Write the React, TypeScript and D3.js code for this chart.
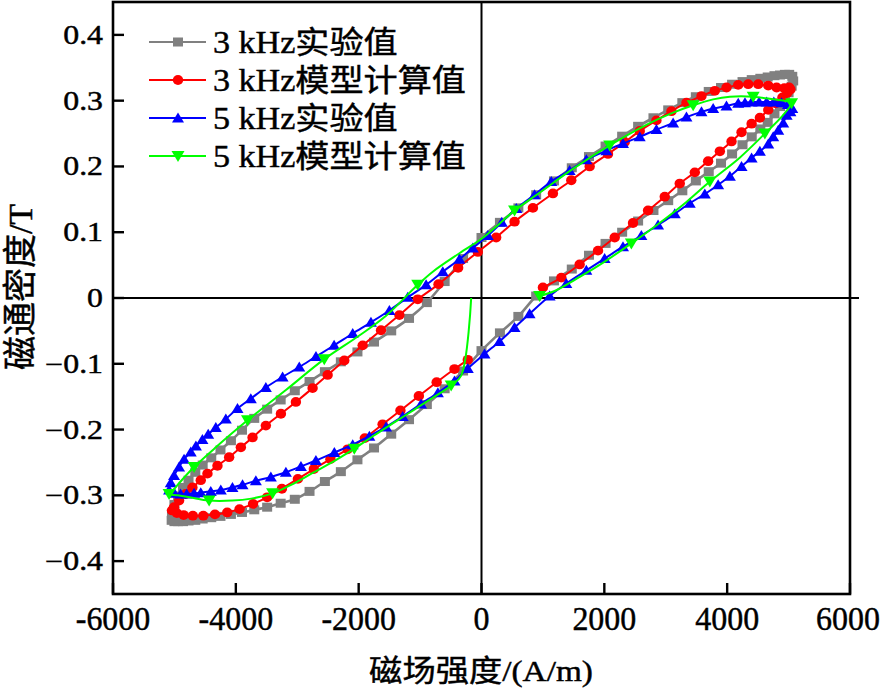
import React from 'react';
import * as d3 from 'd3';

type P = [number, number];

const xTickValues = [-6000, -4000, -2000, 0, 2000, 4000, 6000];
const xTickLabels = ['-6000', '-4000', '-2000', '0', '2000', '4000', '6000'];
const yTickValues = [0.4, 0.3, 0.2, 0.1, 0, -0.1, -0.2, -0.3, -0.4];
const yTickLabels = ['0.4', '0.3', '0.2', '0.1', '0', '\u22120.1', '\u22120.2', '\u22120.3', '\u22120.4'];
const seriesNames = ['3 kHz实验值', '3 kHz模型计算值', '5 kHz实验值', '5 kHz模型计算值'];
const xTitle = '磁场强度/(A/m)';
const yTitle = '磁通密度/T';

// 3 kHz experimental (closed loop)
const gray3kExp: P[] = [
  [5075, 0.330], [5060, 0.337], [5010, 0.340], [4940, 0.340], [4860, 0.339], [4770, 0.338], [4660, 0.336],
  [4540, 0.334], [4400, 0.332], [4250, 0.329], [4080, 0.325], [3900, 0.320], [3700, 0.314], [3490, 0.306],
  [3270, 0.297], [3040, 0.286], [2800, 0.274], [2550, 0.261], [2290, 0.246], [2020, 0.231], [1750, 0.215],
  [1470, 0.198], [1180, 0.178], [890, 0.157], [600, 0.137], [300, 0.115], [0, 0.092], [-300, 0.060],
  [-600, 0.025], [-890, -0.007], [-1180, -0.031], [-1470, -0.050], [-1750, -0.067], [-2020, -0.082],
  [-2290, -0.097], [-2550, -0.112], [-2800, -0.127], [-3040, -0.141], [-3270, -0.155], [-3490, -0.169],
  [-3700, -0.183], [-3900, -0.201], [-4080, -0.217], [-4250, -0.231], [-4400, -0.243], [-4540, -0.254],
  [-4660, -0.265], [-4770, -0.277], [-4860, -0.288], [-4940, -0.301], [-5000, -0.314], [-5040, -0.328],
  [-5045, -0.338], [-5000, -0.340], [-4940, -0.340], [-4860, -0.340], [-4770, -0.339], [-4660, -0.338],
  [-4540, -0.336], [-4400, -0.334], [-4250, -0.332], [-4080, -0.329], [-3900, -0.326], [-3700, -0.322],
  [-3490, -0.318], [-3270, -0.312], [-3040, -0.306], [-2800, -0.294], [-2550, -0.279], [-2290, -0.264],
  [-2020, -0.246], [-1750, -0.228], [-1470, -0.207], [-1180, -0.185], [-890, -0.162], [-600, -0.138],
  [-300, -0.111], [0, -0.080], [300, -0.053], [600, -0.028], [890, 0.003], [1180, 0.026], [1470, 0.044],
  [1750, 0.065], [2020, 0.083], [2290, 0.100], [2550, 0.117], [2800, 0.133], [3040, 0.148], [3270, 0.163],
  [3490, 0.178], [3700, 0.192], [3900, 0.205], [4080, 0.219], [4250, 0.233], [4400, 0.245], [4540, 0.257],
  [4660, 0.267], [4770, 0.280], [4860, 0.291], [4940, 0.302], [5000, 0.312], [5050, 0.322],
];

// 3 kHz model (open path)
const red3kModel: P[] = [
  [1000, 0.016], [1300, 0.031], [1598, 0.051], [1897, 0.072], [2169, 0.092], [2467, 0.114], [2712, 0.133],
  [2984, 0.154], [3228, 0.174], [3473, 0.191], [3690, 0.208], [3881, 0.223], [4071, 0.238], [4234, 0.252],
  [4398, 0.265], [4533, 0.274], [4669, 0.286], [4790, 0.296], [4900, 0.305], [4980, 0.312], [5030, 0.317],
  [5010, 0.320], [4930, 0.319], [4805, 0.320], [4669, 0.323], [4506, 0.325], [4343, 0.325], [4180, 0.324],
  [3990, 0.320], [3799, 0.315], [3582, 0.307], [3337, 0.297], [3093, 0.284], [2848, 0.270], [2577, 0.254],
  [2332, 0.237], [2060, 0.219], [1761, 0.200], [1462, 0.179], [1163, 0.159], [837, 0.137], [538, 0.116],
  [239, 0.092], [-60, 0.070], [-380, 0.046], [-700, 0.021], [-1038, -0.002], [-1337, -0.026], [-1636, -0.049],
  [-1935, -0.072], [-2234, -0.095], [-2505, -0.117], [-2750, -0.137], [-3022, -0.158], [-3266, -0.176],
  [-3511, -0.194], [-3728, -0.212], [-3918, -0.227], [-4109, -0.242], [-4299, -0.255], [-4462, -0.267],
  [-4571, -0.277], [-4707, -0.288], [-4815, -0.298], [-4924, -0.308], [-5006, -0.318], [-5040, -0.323],
  [-4960, -0.327], [-4850, -0.330], [-4700, -0.331], [-4530, -0.331], [-4340, -0.329], [-4140, -0.326],
  [-3940, -0.321], [-3720, -0.313], [-3490, -0.303], [-3250, -0.290], [-2990, -0.275], [-2730, -0.260],
  [-2460, -0.245], [-2180, -0.230], [-1900, -0.213], [-1610, -0.192], [-1320, -0.171], [-1020, -0.149],
  [-730, -0.128], [-440, -0.108], [-223, -0.094],
];

// 5 kHz experimental (closed loop)
const blue5kExp: P[] = [
  [5060, 0.288], [4990, 0.294], [4886, 0.297], [4760, 0.298], [4642, 0.298], [4520, 0.298], [4398, 0.298],
  [4290, 0.297], [4180, 0.296], [3989, 0.292], [3772, 0.288], [3582, 0.283], [3337, 0.275], [3120, 0.266],
  [2848, 0.256], [2576, 0.245], [2304, 0.235], [2033, 0.224], [1707, 0.210], [1435, 0.194], [1136, 0.177],
  [864, 0.157], [566, 0.136], [330, 0.115], [103, 0.095], [-141, 0.076], [-359, 0.059], [-630, 0.040],
  [-902, 0.020], [-1201, 0.001], [-1500, -0.019], [-1800, -0.037], [-2097, -0.054], [-2400, -0.072],
  [-2695, -0.089], [-2967, -0.105], [-3239, -0.120], [-3511, -0.136], [-3756, -0.153], [-3973, -0.168],
  [-4163, -0.184], [-4326, -0.197], [-4450, -0.207], [-4544, -0.215], [-4650, -0.225], [-4734, -0.234],
  [-4843, -0.245], [-4924, -0.257], [-5006, -0.270], [-5060, -0.281], [-5087, -0.292], [-5000, -0.297],
  [-4900, -0.298], [-4800, -0.298], [-4680, -0.297], [-4571, -0.296], [-4408, -0.294], [-4245, -0.292],
  [-4055, -0.288], [-3891, -0.284], [-3674, -0.278], [-3430, -0.272], [-3185, -0.265], [-2940, -0.256],
  [-2696, -0.247], [-2396, -0.235], [-2097, -0.223], [-1826, -0.210], [-1554, -0.196], [-1283, -0.180],
  [-984, -0.161], [-710, -0.144], [-440, -0.126], [-223, -0.107], [49, -0.085], [293, -0.066], [538, -0.045],
  [783, -0.024], [1109, 0.003], [1381, 0.022], [1707, 0.042], [2005, 0.060], [2304, 0.078], [2603, 0.095],
  [2875, 0.111], [3147, 0.128], [3391, 0.144], [3636, 0.158], [3853, 0.172], [4044, 0.185], [4234, 0.200],
  [4398, 0.213], [4533, 0.223], [4669, 0.234], [4750, 0.245], [4832, 0.255], [4913, 0.266], [4968, 0.278],
  [5030, 0.283],
];

// 5 kHz model: computed curve and its marked points
const green5kModelLine: P[] = [
  [-168, 0.0], [-331, -0.118], [-494, -0.133], [-800, -0.152], [-1100, -0.170], [-1400, -0.188],
  [-1750, -0.209], [-2071, -0.229], [-2400, -0.248], [-2750, -0.266], [-3100, -0.284], [-3402, -0.297],
  [-3750, -0.305], [-4055, -0.308], [-4435, -0.308], [-4750, -0.303], [-4950, -0.300], [-5087, -0.298],
  [-5000, -0.290], [-4900, -0.279], [-4680, -0.257], [-4326, -0.227], [-3810, -0.186], [-3185, -0.140],
  [-2560, -0.093], [-1989, -0.057], [-1554, -0.027], [-1038, 0.020], [-793, 0.040], [-359, 0.068],
  [0, 0.090], [293, 0.113], [538, 0.133], [946, 0.160], [1500, 0.197], [2087, 0.232], [2700, 0.264],
  [3100, 0.281], [3446, 0.293], [3772, 0.302], [4044, 0.306], [4424, 0.306], [4750, 0.302], [5022, 0.298],
  [5049, 0.296], [4900, 0.277], [4614, 0.250], [4200, 0.213], [3718, 0.177], [3337, 0.146], [2900, 0.114],
  [2440, 0.083], [2000, 0.055], [1600, 0.032], [1200, 0.011], [946, 0.003],
];
const green5kModelMarks: P[] = [
  [-494, -0.133], [-2071, -0.229], [-3402, -0.297], [-4435, -0.308], [-5087, -0.298], [-4680, -0.257],
  [-3810, -0.186], [-2560, -0.093], [-1038, 0.020], [538, 0.133], [2087, 0.232], [3446, 0.293],
  [4424, 0.306], [5049, 0.296], [4614, 0.250], [3718, 0.177], [2440, 0.083], [946, 0.003],
];

const COLORS = ['#808080', '#ff0000', '#0000ff', '#00ff00'];
const FONT = "'Liberation Serif','Times New Roman','Noto Sans CJK SC',serif";

type Kind = 'square' | 'circle' | 'tri' | 'triDown';

function Marker({ kind, cx, cy, color }: { kind: Kind; cx: number; cy: number; color: string }) {
  if (kind === 'square') return <rect x={cx - 5} y={cy - 4.5} width={10} height={9} fill={color} />;
  if (kind === 'circle') return <ellipse cx={cx} cy={cy} rx={5.2} ry={4.9} fill={color} />;
  if (kind === 'tri')
    return <polygon points={`${cx},${cy - 5.5} ${cx + 6},${cy + 4.5} ${cx - 6},${cy + 4.5}`} fill={color} />;
  return <polygon points={`${cx},${cy + 6} ${cx + 6.5},${cy - 5} ${cx - 6.5},${cy - 5}`} fill={color} />;
}

export default function App() {
  const left = 113, right = 850, top = 2, bottom = 594;
  const x = d3.scaleLinear().domain([-6000, 6000]).range([left, right]);
  const y = d3.scaleLinear().domain([-0.45, 0.45]).range([bottom, top]);

  const open = d3.line<P>().x(d => x(d[0])).y(d => y(d[1])).curve(d3.curveCatmullRom.alpha(0.5));
  const closed = d3.line<P>().x(d => x(d[0])).y(d => y(d[1])).curve(d3.curveCatmullRomClosed.alpha(0.5));

  const series: { line: P[]; marks: P[]; closedPath: boolean; kind: Kind; color: string; width: number }[] = [
    { line: gray3kExp, marks: gray3kExp, closedPath: true, kind: 'square', color: COLORS[0], width: 2.6 },
    { line: red3kModel, marks: red3kModel, closedPath: false, kind: 'circle', color: COLORS[1], width: 2 },
    { line: blue5kExp, marks: blue5kExp, closedPath: true, kind: 'tri', color: COLORS[2], width: 2 },
    { line: green5kModelLine, marks: green5kModelMarks, closedPath: false, kind: 'triDown', color: COLORS[3], width: 2 },
  ];

  const legendRows = [42, 80, 118, 156];
  const x0 = x(0), y0 = y(0);
  const textStroke = { stroke: '#000', strokeWidth: 0.45 };

  return (
    <svg width={883} height={690} style={{ position: 'absolute', left: 0, top: 0, background: '#fff' }} fontFamily={FONT}>
      <rect x={0} y={0} width={883} height={690} fill="#fff" />
      {/* zero lines */}
      <line x1={left} x2={right + 9} y1={y0} y2={y0} stroke="#000" strokeWidth={2} />
      <line x1={x0} x2={x0} y1={top} y2={bottom} stroke="#000" strokeWidth={2} />

      {series.map((s, i) => (
        <g key={i}>
          <path d={(s.closedPath ? closed : open)(s.line) || ''} fill="none" stroke={s.color} strokeWidth={s.width} />
          {s.marks.map((p, j) => (
            <Marker key={j} kind={s.kind} cx={x(p[0])} cy={y(p[1])} color={s.color} />
          ))}
        </g>
      ))}

      {/* frame */}
      <rect x={left} y={top} width={right - left} height={bottom - top} fill="none" stroke="#000" strokeWidth={2.6} />

      {/* x ticks */}
      {xTickValues.map((v, i) => (
        <g key={i}>
          <line x1={x(v)} x2={x(v)} y1={bottom} y2={bottom - 11} stroke="#000" strokeWidth={2.4} />
          <text
            transform={`translate(${Math.min(x(v), 848)},630) scale(0.94,1)`}
            textAnchor="middle"
            fontSize={34}
            {...textStroke}
          >
            {xTickLabels[i]}
          </text>
        </g>
      ))}
      {/* y ticks */}
      {yTickValues.map((v, i) => (
        <g key={i}>
          <line x1={left} x2={left + 11} y1={y(v)} y2={y(v)} stroke="#000" strokeWidth={2.4} />
          <text transform={`translate(103,${y(v) + 9}) scale(1.2,1)`} textAnchor="end" fontSize={26.5} {...textStroke}>
            {yTickLabels[i]}
          </text>
        </g>
      ))}

      {/* legend */}
      {seriesNames.map((name, i) => (
        <g key={i}>
          <line x1={149} x2={206} y1={legendRows[i]} y2={legendRows[i]} stroke={COLORS[i]} strokeWidth={2} />
          <Marker kind={series[i].kind} cx={178} cy={legendRows[i]} color={COLORS[i]} />
          <text transform={`translate(213,${legendRows[i] + 11}) scale(1.1,1)`} fontSize={31} {...textStroke}>
            {name}
          </text>
        </g>
      ))}

      {/* axis titles */}
      <text transform={`translate(481,681) scale(1.11,1)`} textAnchor="middle" fontSize={30} {...textStroke}>
        {xTitle}
      </text>
      <text transform={`translate(32,287) rotate(-90)`} textAnchor="middle" fontSize={34} {...textStroke}>
        {yTitle}
      </text>
    </svg>
  );
}
